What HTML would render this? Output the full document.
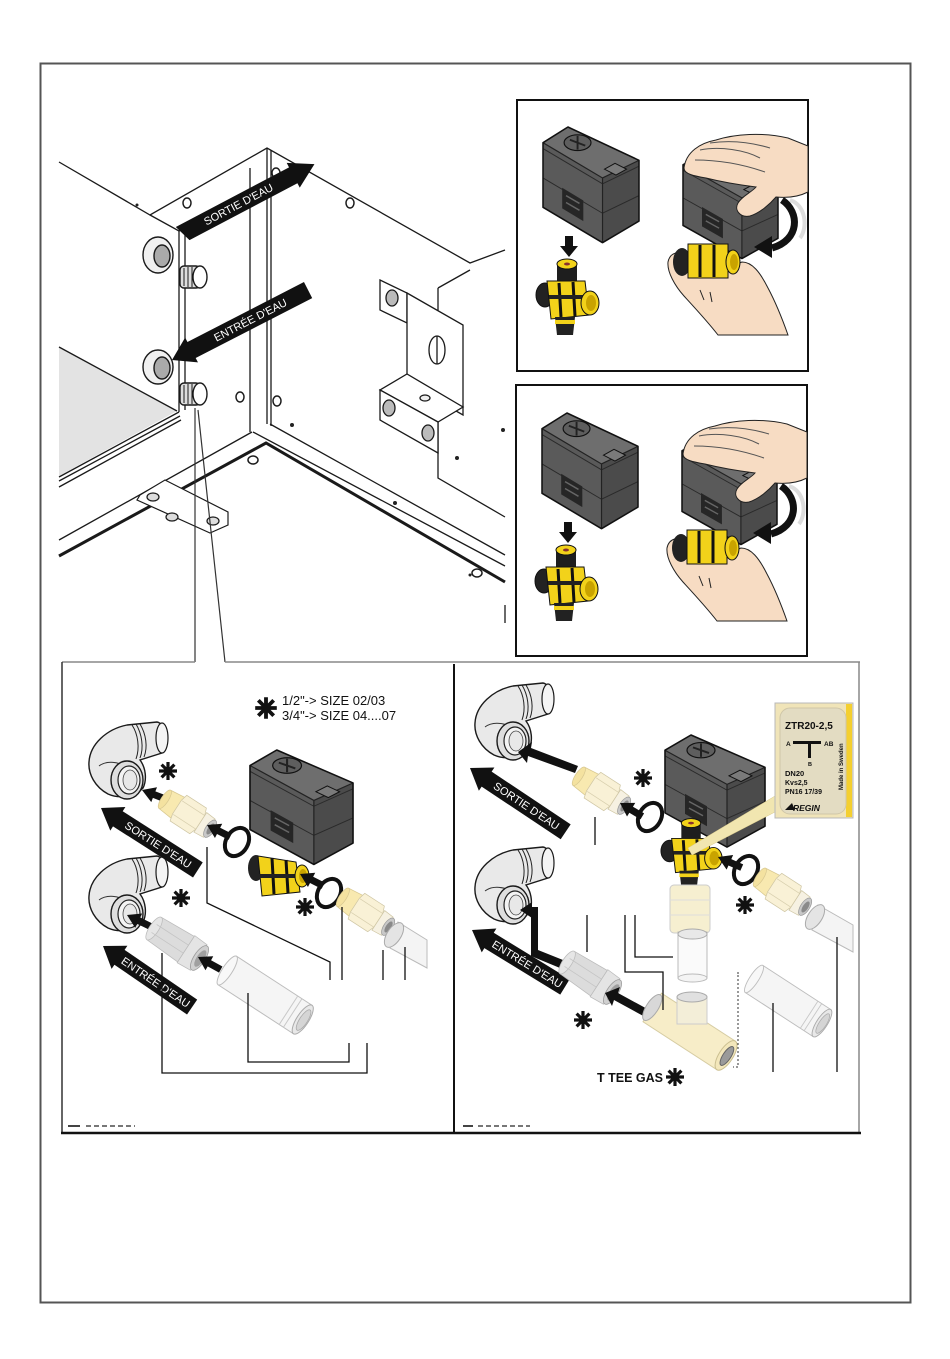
<!DOCTYPE html>
<html><head><meta charset="utf-8"><style>
html,body{margin:0;padding:0;background:#fff;}
svg{display:block;}
text{font-family:"Liberation Sans",sans-serif;}
</style></head><body>
<svg width="950" height="1359" viewBox="0 0 950 1359" xmlns="http://www.w3.org/2000/svg">
<defs>
 <g id="act">
  <polygon points="0,16 26,0 100,34 62,52" fill="#6e6e6e"/>
  <polygon points="0,16 62,52 62,118 0,82" fill="#5a5a5a"/>
  <polygon points="62,52 100,34 100,96 62,118" fill="#4b4b4b"/>
  <path d="M0,22 L62,58 L100,40 M0,52 L62,88 L100,70" fill="none" stroke="#2a2a2a" stroke-width="1"/>
  <path d="M0,16 L62,52 L100,34 M62,52 V118" fill="none" stroke="#222" stroke-width="1.2"/>
  <polygon points="20,62 42,75 42,96 20,83" fill="#262626"/>
  <path d="M24,70 L38,78 M24,77 L38,85" stroke="#666" stroke-width="1.5"/>
  <ellipse cx="36" cy="16" rx="14" ry="8" fill="#5e5e5e" stroke="#111" stroke-width="1.2"/>
  <path d="M28,13 L44,19 M36,9 V23" stroke="#222" stroke-width="2"/>
  <polygon points="64,43 75,37 87,43 76,49" fill="#7a7a7a" stroke="#111" stroke-width="1"/>
  <path d="M0,16 L26,0 L100,34 L100,96 L62,118 L0,82 Z" fill="none" stroke="#111" stroke-width="1.6" stroke-linejoin="round"/>
 </g>
 <g id="valve">
  <rect x="22" y="10" width="20" height="16" fill="#1e1e1e"/>
  <ellipse cx="32" cy="9" rx="10" ry="5" fill="#f2d21a" stroke="#111"/>
  <ellipse cx="32" cy="9" rx="3" ry="1.5" fill="#8a3030"/>
  <ellipse cx="10" cy="40" rx="9" ry="12" fill="#222" stroke="#111"/>
  <path d="M12,26 L50,26 L54,60 L16,64 Z" fill="#f2d21a" stroke="#111"/>
  <path d="M24,28 L26,62 M38,27 L40,61" stroke="#111" stroke-width="3"/>
  <rect x="14" y="40" width="40" height="4" fill="#222"/>
  <ellipse cx="55" cy="48" rx="9" ry="12" fill="#f2d21a" stroke="#111"/>
  <ellipse cx="56" cy="48" rx="5" ry="8" fill="#c9a300"/>
  <path d="M20,62 L40,62 L38,80 L22,80 Z" fill="#222"/>
  <rect x="20" y="65" width="20" height="4" fill="#f2d21a"/>
 </g>
 <g id="elb">
  <path d="M40,3 L70,0 C79,1 82,27 75,31 L53,38 C59,46 60,58 56,66 C48,75 32,77 21,72 C8,65 1,52 2,40 C3,22 20,7 40,3 Z" fill="#e9e9e9" stroke="#1a1a1a" stroke-width="1.4"/>
  <ellipse cx="75" cy="16" rx="6" ry="15" fill="#f4f4f4" stroke="#1a1a1a" stroke-width="1.2"/>
  <path d="M45,3 C51,12 53,26 49,37 M49,2 C55,12 57,26 53,36 M53,2 C59,12 61,25 57,35" fill="none" stroke="#222" stroke-width="1"/>
  <path d="M12,44 C20,38 32,40 40,45" fill="none" stroke="#333" stroke-width="1"/>
  <ellipse cx="40" cy="58" rx="16" ry="19" fill="#dedede" stroke="#1a1a1a" stroke-width="1.4"/>
  <ellipse cx="42" cy="58" rx="11" ry="14" fill="#f3f3f3" stroke="#222" stroke-width="1.2"/>
  <ellipse cx="43" cy="58" rx="7" ry="10" fill="#e8e8e8" stroke="#444" stroke-width="0.8"/>
 </g>
 <g id="un">
  <path d="M-32,-12 L-13,-14 L-13,14 L-32,12 Z" fill="#f8e9b0" stroke="#d8c890" stroke-width="0.8"/>
  <ellipse cx="-32" cy="0" rx="4" ry="12" fill="#f4e2a0" stroke="#d8c890" stroke-width="0.8"/>
  <path d="M-14,-17 L12,-17 L15,-9 L15,9 L12,17 L-14,17 L-16,9 L-16,-9 Z" fill="#f9f1d6" stroke="#cfc6a4" stroke-width="0.8"/>
  <path d="M-15,-9 H15 M-15,9 H15" stroke="#d8cfae" stroke-width="0.8"/>
  <path d="M15,-13 L27,-12 L27,12 L15,13 Z" fill="#f6f1e2" stroke="#cfc6a4" stroke-width="0.8"/>
  <ellipse cx="28" cy="0" rx="5" ry="11" fill="#c8c8c8" stroke="#999" stroke-width="0.8"/>
  <ellipse cx="28.5" cy="0" rx="3" ry="7" fill="#8a8a8a"/>
 </g>
 <g id="gu">
  <path d="M-30,-14 L10,-16 L10,16 L-30,14 Z" fill="#dcdcdc" stroke="#bbb" stroke-width="0.8"/>
  <ellipse cx="-30" cy="0" rx="5" ry="14" fill="#e6e6e6" stroke="#bbb" stroke-width="0.8"/>
  <path d="M-30,-5 H10 M-30,5 H10" stroke="#c4c4c4" stroke-width="0.8"/>
  <path d="M10,-17 L26,-16 L26,16 L10,17 Z" fill="#e4e4e4" stroke="#bbb" stroke-width="0.8"/>
  <ellipse cx="27" cy="0" rx="6" ry="15" fill="#d0d0d0" stroke="#999" stroke-width="0.8"/>
  <ellipse cx="28" cy="0" rx="4" ry="10" fill="#a0a0a0"/>
 </g>
 <g id="pp">
  <rect x="-45" y="-17" width="90" height="34" fill="#f5f5f5" stroke="#bdbdbd" stroke-width="1"/>
  <ellipse cx="-45" cy="0" rx="5" ry="17" fill="#f8f8f8" stroke="#bdbdbd" stroke-width="1"/>
  <path d="M28,-17 V17 M33,-17 V17" stroke="#c8c8c8" stroke-width="1"/>
  <ellipse cx="45" cy="0" rx="6" ry="17" fill="#e8e8e8" stroke="#aaa" stroke-width="1"/>
  <ellipse cx="46" cy="0" rx="4" ry="12" fill="#d5d5d5" stroke="#aaa" stroke-width="0.8"/>
 </g>
 <path id="ar" d="M0,0 L13,-8 L13,-3.5 L26,-3.5 L26,3.5 L13,3.5 L13,8 Z" fill="#111"/>
 <g id="st" stroke="#111" stroke-width="3.2"><path d="M0,-9 V9 M-9,0 H9 M-6.4,-6.4 L6.4,6.4 M-6.4,6.4 L6.4,-6.4"/></g>
</defs>

<rect width="950" height="1359" fill="#fff"/>
<rect x="40.5" y="63.5" width="870" height="1239" fill="none" stroke="#555" stroke-width="2"/>

<!-- ================= CABINET ================= -->
<polygon points="59,347 177,411 59,476" fill="#e3e3e3"/>
<g stroke="#1a1a1a" stroke-width="1.3" fill="none">
 <path d="M59,347 L177,411"/>
 <path d="M59,162 L150,215 L267,148 L470,263 L505,250"/>
 <path d="M150,215 L179,231 L267,183"/>
 <path d="M179,231 V412 M185,234 V410"/>
 <path d="M250,168 V432 M267,148 V424 M271,150 V426"/>
 <path d="M59,477 L179,412 M59,481 L180,416 M59,487 L181,420"/>
 <path d="M59,540 L252,432 M253,432 L505,566 M270,424 L505,555"/>
 <path d="M59,556 L266,443 L505,582" stroke-width="3"/>
 <path d="M438,288 V478 L505,517 M438,288 L470,270"/>
 <path d="M505,605 V623"/>
</g>
<!-- foot -->
<g stroke="#1a1a1a" stroke-width="1.2">
 <polygon points="140,495 165,480 228,512 228,525 210,533 137,500" fill="#fff"/>
 <ellipse cx="153" cy="497" rx="6" ry="4" fill="#ddd"/>
 <ellipse cx="172" cy="517" rx="6" ry="4" fill="#ddd"/>
 <ellipse cx="213" cy="521" rx="6" ry="4" fill="#ddd"/>
</g>
<!-- screws -->
<g fill="#fff" stroke="#1a1a1a" stroke-width="1.5">
 <ellipse cx="187" cy="203" rx="4" ry="5"/>
 <ellipse cx="350" cy="203" rx="4" ry="5"/>
 <ellipse cx="276" cy="173" rx="4" ry="5"/>
 <ellipse cx="240" cy="397" rx="4" ry="5"/>
 <ellipse cx="277" cy="401" rx="4" ry="5"/>
 <ellipse cx="253" cy="460" rx="5" ry="4"/>
 <ellipse cx="477" cy="573" rx="5" ry="4"/>
</g>
<g fill="#222">
 <circle cx="137" cy="205" r="1.5"/><circle cx="292" cy="425" r="2"/><circle cx="395" cy="503" r="2"/>
 <circle cx="457" cy="458" r="2"/><circle cx="503" cy="430" r="2"/><circle cx="470" cy="575" r="1.5"/>
</g>
<!-- bracket -->
<g stroke="#1a1a1a" stroke-width="1.3" fill="#fff">
 <polygon points="380,280 407,293 407,323 380,310"/>
 <ellipse cx="392" cy="298" rx="6" ry="8" fill="#bbb"/>
 <polygon points="407,293 463,325 463,415 407,383"/>
 <ellipse cx="437" cy="350" rx="8" ry="14"/>
 <path d="M437,336 V364" fill="none"/>
 <polygon points="380,390 407,374 463,407 438,422"/>
 <polygon points="380,390 438,422 438,453 380,420"/>
 <ellipse cx="389" cy="408" rx="6" ry="8" fill="#bbb"/>
 <ellipse cx="428" cy="433" rx="6" ry="8" fill="#bbb"/>
 <ellipse cx="425" cy="398" rx="5" ry="3" fill="#eee"/>
</g>
<!-- pipe stubs -->
<g stroke="#1a1a1a" stroke-width="1.4">
 <ellipse cx="158" cy="255" rx="15" ry="18" fill="#f0f0f0"/>
 <ellipse cx="162" cy="256" rx="8" ry="11" fill="#aaa"/>
 <rect x="180" y="266" width="20" height="22" rx="4" fill="#ddd"/>
 <ellipse cx="200" cy="277" rx="7" ry="11" fill="#fff"/>
 <path d="M184,268 V286 M188,267 V287 M192,267 V287" stroke-width="1"/>
 <ellipse cx="158" cy="367" rx="15" ry="17" fill="#f0f0f0"/>
 <ellipse cx="162" cy="368" rx="8" ry="11" fill="#aaa"/>
 <rect x="180" y="383" width="20" height="22" rx="4" fill="#ddd"/>
 <ellipse cx="200" cy="394" rx="7" ry="11" fill="#fff"/>
 <path d="M184,385 V403 M188,384 V404 M192,384 V404" stroke-width="1"/>
</g>
<!-- cabinet arrows -->
<g transform="translate(180,235) rotate(-27.8)">
 <polygon points="0,-9 128,-9 128,-14 152,0 128,14 128,9 6,9" fill="#111"/>
 <text x="66" y="4" font-size="11" fill="#fff" text-anchor="middle">SORTIE D'EAU</text>
</g>
<g transform="translate(172,360) rotate(-27.2)">
 <polygon points="0,0 22,-14 22,-9 153,-9 153,9 22,9 22,14" fill="#111"/>
 <text x="88" y="4" font-size="11" fill="#fff" text-anchor="middle">ENTRÉE D'EAU</text>
</g>
<!-- callout -->
<path d="M195,408 V662 M198,410 L225,662" stroke="#333" stroke-width="1.2" fill="none"/>

<!-- ================= BOX 1 ================= -->
<rect x="517" y="100" width="291" height="271" fill="#fff" stroke="#111" stroke-width="2"/>
<g id="b1">
 <use href="#act" transform="translate(543,127) scale(0.96,0.98)"/>
 <path d="M565,236 h8 v10 h5 l-9,11 l-9,-11 h5 z" fill="#111"/>
 <use href="#valve" transform="translate(535,255)"/>
 <use href="#act" transform="translate(683,150) scale(0.95,0.92)"/>
 <path d="M668,262 C670,252 680,250 688,256 L700,270 C712,272 728,268 742,262 C752,262 760,272 768,288 C776,303 782,318 788,335 L718,335 C708,322 695,308 684,296 C675,286 667,272 668,262 Z" fill="#f7dcc3" stroke="#222" stroke-width="1"/>
 <ellipse cx="682" cy="262" rx="9" ry="14" fill="#222"/>
 <rect x="688" y="244" width="40" height="34" fill="#f2d21a" stroke="#111"/>
 <path d="M700,245 V277 M714,245 V277" stroke="#111" stroke-width="3"/>
 <ellipse cx="733" cy="262" rx="7" ry="12" fill="#f2d21a" stroke="#111"/>
 <ellipse cx="734" cy="262" rx="4" ry="8" fill="#c9a300"/>
 <path d="M700,290 L704,300 M710,292 L712,302" stroke="#222" stroke-width="1"/>
 <path d="M790,200 C806,205 808,228 800,238" fill="none" stroke="#ddd" stroke-width="4"/>
 <path d="M782,200 C800,212 800,240 772,248" fill="none" stroke="#111" stroke-width="7"/>
 <polygon points="754,247 772,236 772,258" fill="#111"/>
 <path d="M684,168 C686,152 700,143 716,140 C735,134 762,132 788,138 L808,146 L808,192 C798,197 786,198 776,197 C770,204 760,213 750,216 C740,218 734,210 738,203 C742,196 752,192 756,187 C740,185 722,182 706,178 C694,176 684,174 684,168 Z" fill="#f7dcc3" stroke="#222" stroke-width="1"/>
 <path d="M700,150 C720,146 745,150 760,158 M695,160 C720,160 745,165 765,172 M710,143 C730,140 750,142 770,148" fill="none" stroke="#555" stroke-width="1"/>
</g>

<!-- ================= BOX 2 ================= -->
<rect x="516" y="385" width="291" height="271" fill="#fff" stroke="#111" stroke-width="2"/>
<use href="#b1" transform="translate(-1,286)"/>

<!-- ================= BOTTOM PANELS ================= -->
<path d="M62,662 H195 M225,662 H860" stroke="#888" stroke-width="1.5"/>
<path d="M62,662 V1133" stroke="#333" stroke-width="1.5"/>
<path d="M859,662 V1133" stroke="#888" stroke-width="1.5"/>
<path d="M454,664 V1133" stroke="#111" stroke-width="2"/>
<path d="M61,1133 H861" stroke="#111" stroke-width="2.5"/>

<!-- ---- left panel ---- -->
<use href="#st" transform="translate(266,708) scale(1.2)"/>
<text x="282" y="705" font-size="13" fill="#111">1/2"-&gt; SIZE 02/03</text>
<text x="282" y="720" font-size="13" fill="#111">3/4"-&gt; SIZE 04....07</text>

<use href="#elb" transform="translate(87,722)"/>
<use href="#elb" transform="translate(87,856)"/>
<use href="#st" transform="translate(168,771)"/>
<use href="#st" transform="translate(181,898)"/>
<use href="#st" transform="translate(305,907)"/>

<use href="#ar" transform="translate(142,790) rotate(21)"/>
<use href="#un" transform="translate(189,815) rotate(33) scale(0.9)"/>
<use href="#ar" transform="translate(207,825) rotate(27)"/>
<ellipse cx="237" cy="842" rx="11" ry="15" transform="rotate(30 237 842)" fill="none" stroke="#111" stroke-width="4"/>
<use href="#act" transform="translate(250,750) scale(1.03,0.97)"/>
<!-- bl valve -->
<ellipse cx="256" cy="868" rx="8" ry="13" fill="#222"/>
<polygon points="258,856 296,862 300,892 262,896" fill="#f2d21a" stroke="#111"/>
<path d="M272,858 L274,894 M286,860 L288,893" stroke="#111" stroke-width="3"/>
<rect x="258" y="874" width="40" height="4" fill="#222"/>
<ellipse cx="302" cy="876" rx="7" ry="11" fill="#f2d21a" stroke="#111"/>
<ellipse cx="303" cy="876" rx="4" ry="7" fill="#c9a300"/>
<use href="#ar" transform="translate(300,874) rotate(27)"/>
<ellipse cx="329" cy="893" rx="11" ry="15" transform="rotate(30 329 893)" fill="none" stroke="#111" stroke-width="4"/>
<use href="#un" transform="translate(367,913) rotate(33) scale(0.9)"/>
<polygon points="398,922 427,940 427,968 390,948" fill="#f4f4f4" stroke="#bbb"/>
<ellipse cx="394" cy="935" rx="7" ry="14" transform="rotate(33 394 935)" fill="#e4e4e4" stroke="#aaa"/>

<g transform="translate(101,808) rotate(32.6)">
 <polygon points="0,0 20,-14 20,-9 115,-9 115,9 20,9 20,14" fill="#111"/>
 <text x="68" y="4" font-size="11" fill="#fff" text-anchor="middle">SORTIE D'EAU</text>
</g>
<use href="#ar" transform="translate(127,915) rotate(26)"/>
<use href="#gu" transform="translate(178,944) rotate(33) scale(0.95)"/>
<use href="#ar" transform="translate(198,957) rotate(29)"/>
<use href="#pp" transform="translate(265,995) rotate(33)"/>
<g transform="translate(103,946) rotate(34.4)">
 <polygon points="0,0 20,-14 20,-9 108,-9 108,9 20,9 20,14" fill="#111"/>
 <text x="64" y="4" font-size="11" fill="#fff" text-anchor="middle">ENTRÉE D'EAU</text>
</g>
<g stroke="#111" stroke-width="1.3" fill="none">
 <path d="M207,847 V903 L330,962 V980"/>
 <path d="M342,907 V980 M383,950 V980 M405,947 V980"/>
 <path d="M248,993 V1062 H349 V1043"/>
 <path d="M162,953 V1073 H367 V1043"/>
</g>
<path d="M68,1126 H80" stroke="#444" stroke-width="2"/>
<path d="M86,1126 H135" stroke="#777" stroke-width="2" stroke-dasharray="5,3"/>

<!-- ---- right panel ---- -->
<use href="#elb" transform="translate(473,683)"/>
<use href="#elb" transform="translate(473,847)"/>
<polygon points="518,752 532,742 531,748 578,766 575,773 528,756 527,763" fill="#111"/>
<g transform="translate(470,768) rotate(33.7)">
 <polygon points="0,0 20,-14 20,-9 115,-9 115,9 20,9 20,14" fill="#111"/>
 <text x="68" y="4" font-size="11" fill="#fff" text-anchor="middle">SORTIE D'EAU</text>
</g>
<use href="#un" transform="translate(603,792) rotate(33) scale(0.9)"/>
<use href="#st" transform="translate(643,778)"/>
<use href="#ar" transform="translate(620,803) rotate(31)"/>
<ellipse cx="650" cy="817" rx="11" ry="15" transform="rotate(30 650 817)" fill="none" stroke="#111" stroke-width="4"/>
<use href="#act" transform="translate(665,735) scale(1,0.95)"/>
<use href="#valve" transform="translate(660,815) scale(0.97,0.9)"/>
<!-- clear vertical fitting -->
<rect x="670" y="885" width="40" height="48" rx="4" fill="#f6efd0" stroke="#ccc"/>
<path d="M670,900 H710 M670,915 H710" stroke="#ddd"/>
<rect x="678" y="932" width="29" height="46" fill="#fafafa" stroke="#bbb"/>
<ellipse cx="692.5" cy="934" rx="14.5" ry="5" fill="#e8e8e8" stroke="#aaa"/>
<ellipse cx="692.5" cy="978" rx="14.5" ry="4" fill="#f4f4f4" stroke="#bbb"/>
<!-- label -->
<polygon points="775,796 775,812 692,855 688,848" fill="#f1e6b0" stroke="#d8c98a" stroke-width="0.5"/>
<rect x="775" y="703" width="78" height="115" fill="#f0e4b8" stroke="#b8b8b8"/>
<rect x="846" y="704" width="6" height="113" fill="#f4cf30"/>
<rect x="780" y="708" width="66" height="106" rx="10" fill="#e3dcc2" stroke="#cfc6a8"/>
<text x="785" y="729" font-size="10" font-weight="bold" fill="#111">ZTR20-2,5</text>
<text x="786" y="746" font-size="6.5" font-weight="bold" fill="#111">A</text>
<rect x="793" y="741" width="28" height="3" fill="#111"/>
<rect x="808" y="741" width="3" height="17" fill="#111"/>
<text x="824" y="746" font-size="6.5" font-weight="bold" fill="#111">AB</text>
<text x="808" y="766" font-size="5.5" font-weight="bold" fill="#111">B</text>
<text x="785" y="776" font-size="7.5" font-weight="bold" fill="#111">DN20</text>
<text x="785" y="785" font-size="7" font-weight="bold" fill="#111">Kvs2,5</text>
<text x="785" y="794" font-size="7" font-weight="bold" fill="#111">PN16  17/39</text>
<polygon points="785,810 792,803 795,810" fill="#111"/>
<text x="793" y="811" font-size="8.5" font-weight="bold" font-style="italic" fill="#111">REGIN</text>
<text transform="translate(843,790) rotate(-90)" font-size="6" font-weight="bold" fill="#111">Made in Sweden</text>

<use href="#ar" transform="translate(718,857) rotate(24)"/>
<ellipse cx="746" cy="870" rx="11" ry="15" transform="rotate(30 746 870)" fill="none" stroke="#111" stroke-width="4"/>
<use href="#st" transform="translate(745,905)"/>
<use href="#un" transform="translate(784,893) rotate(33) scale(0.9)"/>
<polygon points="818,905 853,925 853,952 812,930" fill="#f4f4f4" stroke="#bbb"/>
<ellipse cx="815" cy="917" rx="7" ry="14" transform="rotate(33 815 917)" fill="#e4e4e4" stroke="#aaa"/>

<!-- L arrow -->
<polygon points="520,910 532,902 532,907 538,907 538,950 563,960 560,968 531,956 531,913 532,918" fill="#111"/>
<g transform="translate(472,930) rotate(31.5)">
 <polygon points="0,0 20,-14 20,-9 109,-9 109,9 20,9 20,14" fill="#111"/>
 <text x="65" y="4" font-size="11" fill="#fff" text-anchor="middle">ENTRÉE D'EAU</text>
</g>
<use href="#gu" transform="translate(591,978) rotate(33) scale(0.95)"/>
<polygon points="605,993 620,987 618,993 651,1011 647,1018 614,1000 612,1006" fill="#111"/>
<use href="#st" transform="translate(583,1020)"/>
<!-- T tee -->
<g transform="translate(690,1032) rotate(33)">
 <rect x="-45" y="-17" width="88" height="34" fill="#f7edc8" stroke="#d6cca2"/>
 <ellipse cx="-45" cy="0" rx="6" ry="15" fill="#d8d8d8" stroke="#aaa"/>
 <ellipse cx="43" cy="0" rx="7" ry="17" fill="#f3e7bb" stroke="#cbbf90"/>
 <ellipse cx="44" cy="0" rx="4" ry="11" fill="#9a9a9a" stroke="#666"/>
</g>
<rect x="677" y="997" width="30" height="27" fill="#f3eed8" stroke="#ccc"/>
<ellipse cx="692" cy="997" rx="15" ry="5" fill="#e0e0e0" stroke="#aaa"/>
<use href="#pp" transform="translate(788,1001) rotate(33) scale(0.9,0.95)"/>
<path d="M737,973 H741 M738,975 V1067 H733" stroke="#333" stroke-width="1" stroke-dasharray="2,2" fill="none"/>
<text x="597" y="1082" font-size="12.5" font-weight="bold" fill="#111">T TEE GAS</text>
<use href="#st" transform="translate(675,1077)"/>
<g stroke="#111" stroke-width="1.3" fill="none">
 <path d="M595,817 V845 M587,915 V952"/>
 <path d="M625,915 V972 H663 V1010"/>
 <path d="M635,915 V957 H673"/>
 <path d="M773,1003 V1072 M837,937 V1072"/>
</g>
<path d="M463,1126 H473" stroke="#444" stroke-width="2"/>
<path d="M478,1126 H530" stroke="#777" stroke-width="2" stroke-dasharray="5,3"/>
</svg>
</body></html>
